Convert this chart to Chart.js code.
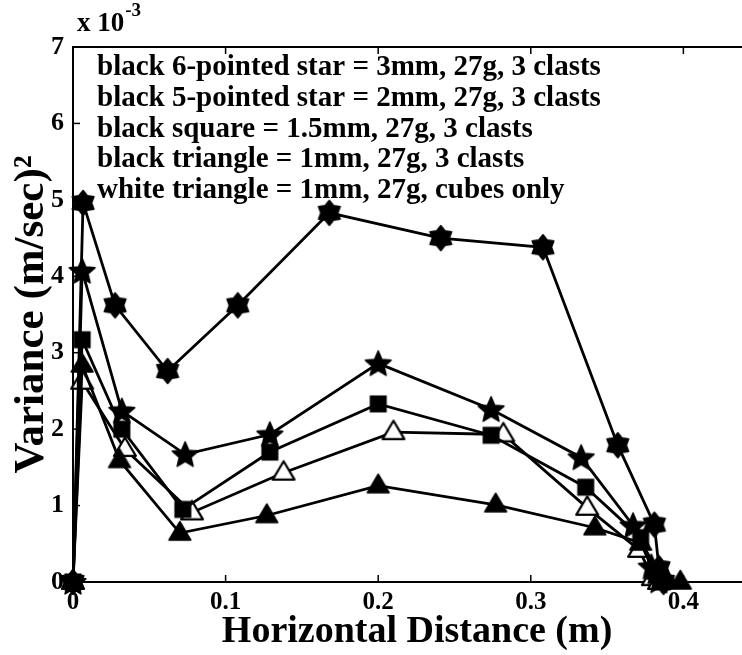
<!DOCTYPE html>
<html>
<head>
<meta charset="utf-8">
<script src="https://cdn.jsdelivr.net/npm/chart.js@4.4.1/dist/chart.umd.min.js"></script>
<style>
html,body{margin:0;padding:0;background:#fff;overflow:hidden;width:742px;height:655px;}
canvas{display:block;}
</style>
</head>
<body>
<canvas id="c" width="775" height="655"></canvas>
<script>
// ---- data (x: horizontal distance in m, y: variance in 1e-3 (m/sec)^2) ----
const distStar6 = [0, 0.0066, 0.0276, 0.062, 0.108, 0.168, 0.241, 0.308, 0.357, 0.381, 0.384, 0.387];
const varStar6  = [0, 4.96, 3.62, 2.76, 3.62, 4.83, 4.50, 4.38, 1.79, 0.75, 0.18, 0.0];

const distStar5 = [0, 0.006, 0.032, 0.0735, 0.129, 0.200, 0.274, 0.333, 0.367, 0.379, 0.384];
const varStar5  = [0, 4.07, 2.24, 1.67, 1.93, 2.86, 2.26, 1.63, 0.74, 0.20, 0.02];

const distSquare = [0, 0.006, 0.032, 0.072, 0.129, 0.200, 0.274, 0.336, 0.372, 0.381, 0.386];
const varSquare  = [0, 3.17, 2.00, 0.95, 1.70, 2.33, 1.92, 1.24, 0.58, 0.15, 0.0];

const distTriBlack = [0, 0.006, 0.0305, 0.070, 0.127, 0.200, 0.277, 0.342, 0.372, 0.384, 0.398];
const varTriBlack  = [0, 2.84, 1.59, 0.64, 0.87, 1.26, 1.01, 0.71, 0.51, 0.08, 0.0];

const distTriWhite = [0, 0.006, 0.034, 0.078, 0.138, 0.210, 0.282, 0.337, 0.371, 0.380, 0.384];
const varTriWhite  = [0, 2.62, 1.74, 0.91, 1.43, 1.96, 1.93, 0.97, 0.42, 0.05, 0.0];

const xTicks = [0, 0.1, 0.2, 0.3, 0.4];
const yTicks = [0, 1, 2, 3, 4, 5, 6, 7];

const legendLines = [
  "black 6-pointed star = 3mm, 27g, 3 clasts",
  "black 5-pointed star = 2mm, 27g, 3 clasts",
  "black square = 1.5mm, 27g, 3 clasts",
  "black triangle = 1mm, 27g, 3 clasts",
  "white triangle = 1mm, 27g, cubes only"
];

// ---- markers ----
function starPath(ctx, cx, cy, n, R, r) {
  ctx.beginPath();
  for (let i = 0; i < 2 * n; i++) {
    const a = -Math.PI / 2 + i * Math.PI / n;
    const rad = (i % 2 === 0) ? R : r;
    const px = cx + rad * Math.cos(a), py = cy + rad * Math.sin(a);
    if (i === 0) ctx.moveTo(px, py); else ctx.lineTo(px, py);
  }
  ctx.closePath();
}
function marker(kind) {
  const s = 32;
  const c = document.createElement('canvas');
  c.width = s; c.height = s;
  const ctx = c.getContext('2d');
  const cx = s / 2, cy = s / 2;
  ctx.lineJoin = 'round';
  ctx.fillStyle = '#000';
  ctx.strokeStyle = '#000';
  ctx.lineWidth = 1.5;
  if (kind === 'hex') {
    starPath(ctx, cx, cy, 6, 12.5, 8.5);
    ctx.fill(); ctx.stroke();
  } else if (kind === 'pent') {
    starPath(ctx, cx, cy + 1, 5, 13.5, 6.2);
    ctx.fill(); ctx.stroke();
  } else if (kind === 'square') {
    ctx.fillRect(cx - 8.5, cy - 8.5, 17, 17);
  } else {
    const R = 11.5;
    ctx.beginPath();
    ctx.moveTo(cx, cy - R);
    ctx.lineTo(cx + R * 0.95, cy + R * 0.6);
    ctx.lineTo(cx - R * 0.95, cy + R * 0.6);
    ctx.closePath();
    if (kind === 'triW') { ctx.fillStyle = '#fff'; ctx.lineWidth = 2.2; }
    ctx.fill(); ctx.stroke();
  }
  return c;
}

function pts(xs, ys) { return xs.map((x, i) => ({x: x, y: ys[i]})); }
function ds(label, xs, ys, kind) {
  return {
    label: label,
    data: pts(xs, ys),
    borderColor: '#000',
    borderWidth: 2.8,
    pointStyle: marker(kind),
    pointRadius: 11,
    tension: 0,
    clip: false
  };
}

const FONT = "'Liberation Serif', 'Times New Roman', serif";

const decor = {
  id: 'decor',
  afterDraw(chart) {
    const ctx = chart.ctx;
    const a = chart.chartArea;
    const xs = chart.scales.x, ys = chart.scales.y;
    ctx.save();
    ctx.strokeStyle = '#000';
    ctx.lineWidth = 2;
    // top border
    ctx.beginPath();
    ctx.moveTo(a.left - 1, a.top);
    ctx.lineTo(chart.width, a.top);
    ctx.stroke();
    // inward ticks
    ctx.lineWidth = 1.5;
    xTicks.forEach(v => {
      const p = xs.getPixelForValue(v);
      ctx.beginPath();
      ctx.moveTo(p, a.bottom); ctx.lineTo(p, a.bottom - 7);
      ctx.moveTo(p, a.top); ctx.lineTo(p, a.top + 7);
      ctx.stroke();
    });
    yTicks.forEach(v => {
      const p = ys.getPixelForValue(v);
      ctx.beginPath();
      ctx.moveTo(a.left, p); ctx.lineTo(a.left + 7, p);
      ctx.stroke();
    });
    // exponent label
    ctx.fillStyle = '#000';
    ctx.textBaseline = 'alphabetic';
    ctx.font = "bold 27px " + FONT;
    ctx.fillText("x 10", a.left + 4, a.top - 16);
    const w = ctx.measureText("x 10").width;
    ctx.font = "bold 19px " + FONT;
    ctx.fillText("-3", a.left + 4 + w + 1, a.top - 31);
    // legend text
    ctx.font = "bold 29px " + FONT;
    legendLines.forEach((t, i) => {
      ctx.fillText(t, a.left + 24, a.top + 28 + i * 30.8);
    });
    ctx.restore();
  }
};

new Chart(document.getElementById('c'), {
  type: 'line',
  data: {
    datasets: [
      ds('black 6-pointed star', distStar6, varStar6, 'hex'),
      ds('black 5-pointed star', distStar5, varStar5, 'pent'),
      ds('black square', distSquare, varSquare, 'square'),
      ds('black triangle', distTriBlack, varTriBlack, 'triB'),
      ds('white triangle', distTriWhite, varTriWhite, 'triW')
    ]
  },
  options: {
    responsive: false,
    animation: false,
    events: [],
    layout: {padding: {top: 47, right: 0, left: 0, bottom: 0}},
    plugins: {legend: {display: false}, tooltip: {enabled: false}},
    scales: {
      x: {
        type: 'linear',
        min: 0, max: 0.451,
        afterFit(s) { s.height = 73; },
        ticks: {
          stepSize: 0.1, includeBounds: false,
          color: '#000', padding: 6,
          font: {family: FONT, size: 25, weight: 'bold'},
          maxRotation: 0
        },
        grid: {drawOnChartArea: false, drawTicks: false},
        border: {display: true, color: '#000', width: 2},
        title: {
          display: true, text: 'Horizontal Distance (m)', color: '#000',
          font: {family: FONT, size: 38, weight: 'bold'}, padding: {top: 0, bottom: 0}
        }
      },
      y: {
        min: 0, max: 7,
        afterFit(s) { s.width = 73; },
        ticks: {
          stepSize: 1, color: '#000', padding: 9,
          font: {family: FONT, size: 26, weight: 'bold'}
        },
        grid: {drawOnChartArea: false, drawTicks: false},
        border: {display: true, color: '#000', width: 2},
        title: {
          display: true, text: 'Variance (m/sec)\u00B2', color: '#000',
          font: {family: FONT, size: 43, weight: 'bold'}, padding: {top: 6, bottom: 0}
        }
      }
    }
  },
  plugins: [decor]
});
</script>
</body>
</html>
